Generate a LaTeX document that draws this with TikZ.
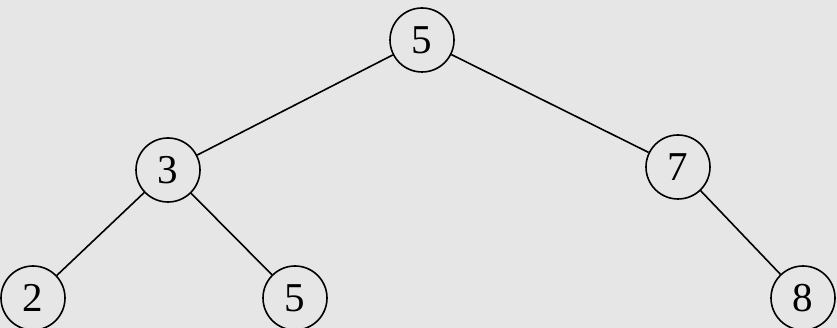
\documentclass[tikz,border=0pt]{standalone}
\usepackage{fontspec}
\setmainfont{Liberation Serif}
\definecolor{paper}{HTML}{E6E6E6}
\begin{document}
\begin{tikzpicture}[x=1pt,y=-1pt,
  treenode/.style={circle,draw=black,line width=1.6pt,fill=paper,
    minimum size=64pt,inner sep=0pt,font=\fontsize{41}{41}\selectfont},
  branch/.style={draw=black,line width=1.6pt}]
  % background sheet
  \fill[paper] (0,0) rectangle (837,328);
  \useasboundingbox (0,0) rectangle (837,328);
  % nodes
  \node[treenode] (r)  at (422,40)  {5};
  \node[treenode] (l)  at (168,170) {3};
  \node[treenode] (rr) at (678,167) {7};
  \node[treenode] (ll) at (33,298)  {2};
  \node[treenode] (lr) at (295,298) {5};
  \node[treenode] (rrr) at (803,298) {8};
  % branches
  \draw[branch] (r) -- (l);
  \draw[branch] (r) -- (rr);
  \draw[branch] (l) -- (ll);
  \draw[branch] (l) -- (lr);
  \draw[branch] (rr) -- (rrr);
\end{tikzpicture}
\end{document}
